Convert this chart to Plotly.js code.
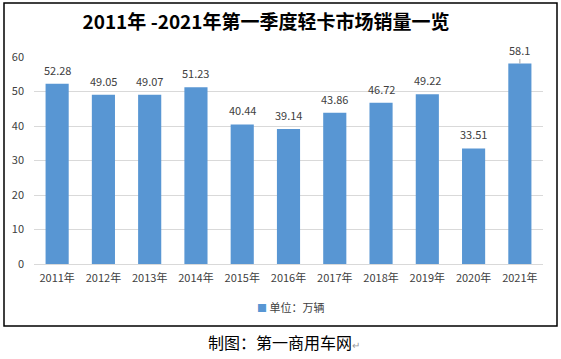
<!DOCTYPE html>
<html>
<head>
<meta charset="utf-8">
<script src="https://cdn.plot.ly/plotly-3.0.1.min.js"></script>
<style>html,body{margin:0;padding:0;background:#fff;}#chart{width:561px;height:359px;}</style>
</head>
<body>
<div id="chart"></div>
<script>
const years = ["2011年","2012年","2013年","2014年","2015年","2016年","2017年","2018年","2019年","2020年","2021年"];
const sales = [52.28, 49.05, 49.07, 51.23, 40.44, 39.14, 43.86, 46.72, 49.22, 33.51, 58.1];
const labels = ["52.28","49.05","49.07","51.23","40.44","39.14","43.86","46.72","49.22","33.51","58.1"];
const seriesName = "单位：万辆";
const yTicks = [0, 10, 20, 30, 40, 50, 60];

const font = "'Noto Sans CJK SC', 'Microsoft YaHei', sans-serif";
const barColor = '#5896D3';
const last = sales.length - 1;

const annotations = sales.map((v, i) => {
  const a = {
    x: years[i], y: v, xref: 'x', yref: 'y',
    text: labels[i],
    font: {family: font, size: 11, color: '#404040'}
  };
  if (i === last) {
    Object.assign(a, {showarrow: true, arrowhead: 0, arrowwidth: 1, arrowcolor: '#a6a6a6',
      ax: 0, ay: -14, standoff: 0});
  } else {
    Object.assign(a, {showarrow: false, yanchor: 'middle', yshift: 14});
  }
  return a;
});

// legend (drawn as text item under the plot)
annotations.push({
  xref: 'paper', yref: 'paper', x: (290-34)/509, y: (264-307)/207, xanchor: 'center', yanchor: 'middle',
  showarrow: false,
  text: '<span style="color:' + barColor + ';font-size:10px">■</span> ' + seriesName,
  font: {family: font, size: 11, color: '#404040'}
});

annotations.push({
  xref: 'paper', yref: 'paper', x: (284-34)/509, y: (264-342)/207, xanchor: 'center', yanchor: 'middle',
  showarrow: false,
  text: '制图：第一商用车网<span style="font-size:10px;color:#999">↵</span>',
  font: {family: font, size: 16, color: '#000'}
});

const trace = {
  type: 'bar', x: years, y: sales, name: seriesName,
  marker: {color: barColor},
  showlegend: false, hoverinfo: 'none'
};

const layout = {
  width: 561, height: 359,
  margin: {l: 34, r: 18, t: 57, b: 95},
  paper_bgcolor: '#fff', plot_bgcolor: '#fff',
  title: {
    text: '<b>2011年 -2021年第一季度轻卡市场销量一览</b>',
    font: {family: font, size: 19, color: '#000'},
    x: 266/561, xanchor: 'center', y: 1 - 22/359, yanchor: 'middle', yref: 'container'
  },
  bargap: 0.5,
  xaxis: {
    type: 'category', showgrid: false, showline: true, linecolor: '#d9d9d9', linewidth: 1,
    ticks: '', ticklabelstandoff: 4, tickfont: {family: font, size: 11, color: '#404040'}, fixedrange: true
  },
  yaxis: {
    range: [0, 60], tickvals: yTicks, showgrid: true, gridcolor: '#d9d9d9', gridwidth: 1,
    zeroline: false, showline: false, ticks: '', ticklabelstandoff: 9,
    tickfont: {family: font, size: 11, color: '#404040'}, fixedrange: true
  },
  showlegend: false,
  annotations: annotations,
  shapes: [{
    type: 'rect', xref: 'paper', yref: 'paper',
    x0: (4-34)/509, x1: (557-34)/509, y0: (264-326)/207, y1: (264-3)/207,
    line: {color: '#000', width: 1.5}, fillcolor: 'rgba(0,0,0,0)', layer: 'below'
  }]
};

Plotly.newPlot('chart', [trace], layout, {staticPlot: true, displayModeBar: false});
</script>
</body>
</html>
